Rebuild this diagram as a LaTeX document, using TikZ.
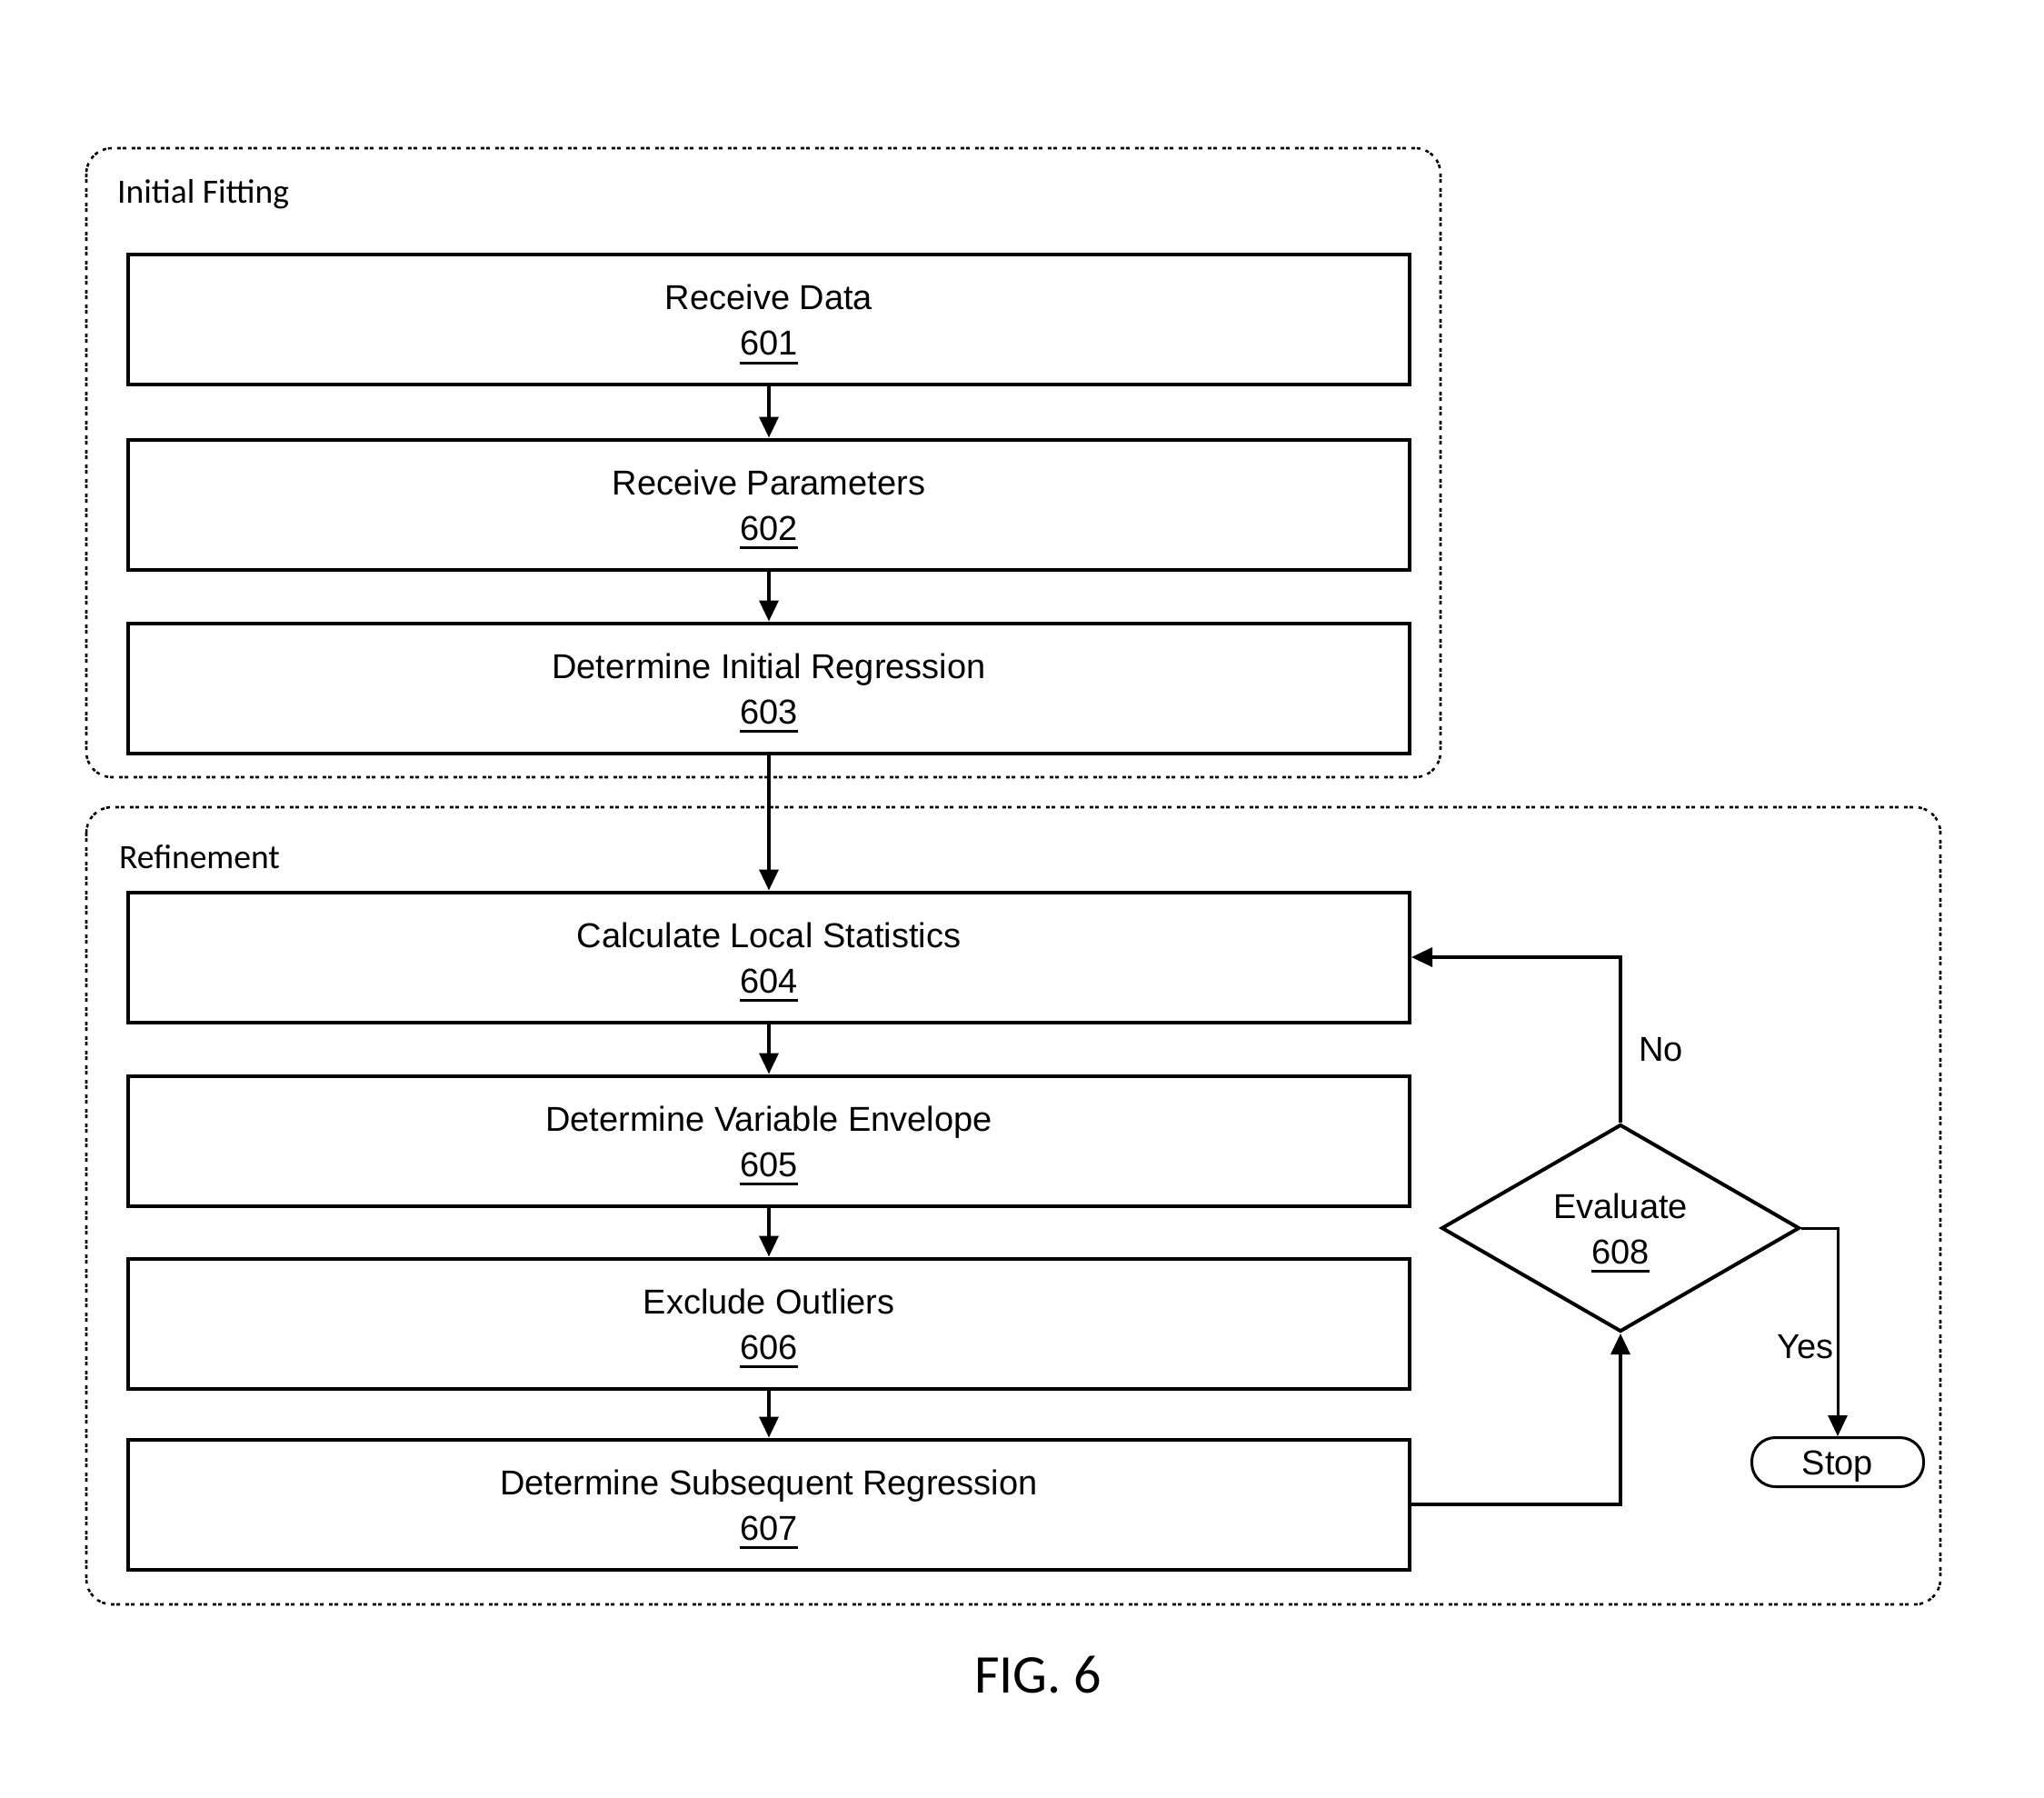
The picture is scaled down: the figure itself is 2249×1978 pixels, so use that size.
\documentclass[tikz,border=0pt]{standalone}
\usepackage{fontspec}
\setmainfont{Liberation Sans}
\newfontfamily\calib{Carlito}
\usetikzlibrary{arrows.meta,shapes.geometric}
\newcommand{\refnum}[1]{\setbox0\hbox{#1}\rlap{\rule[-10pt]{\wd0}{3pt}}#1}
\newcommand{\twol}[2]{\rule{0pt}{38pt}#1\\\refnum{#2}}
\begin{document}
\begin{tikzpicture}[x=1pt,y=-1pt,
  procbox/.style={draw, line width=4pt, minimum width=1410pt, minimum height=143pt,
    inner sep=0pt, align=center, font=\fontsize{38}{50}\selectfont},
  decision/.style={draw, diamond, aspect=1.716, line width=4pt, minimum width=394pt,
    minimum height=228pt, inner sep=0pt, align=center, font=\fontsize{38}{50}\selectfont},
  stopbox/.style={draw, rectangle, rounded corners=26pt, line width=3pt, minimum width=189pt,
    minimum height=54pt, inner sep=0pt, text height=27pt, text depth=0pt,
    font=\fontsize{38}{46}\selectfont},
  groupbox/.style={draw, line width=2.6pt, rounded corners=28pt, dash pattern=on 4pt off 2pt on 4pt off 6pt},
  grouplabel/.style={inner sep=0pt, font=\calib\fontsize{37.5}{45}\selectfont},
  flowlabel/.style={inner sep=0pt, font=\fontsize{38}{46}\selectfont},
  arr/.style={line width=3.5pt, -{Triangle[length=23pt,width=21pt]}},
]
\useasboundingbox[fill=white] (0,0) rectangle (2249,1978);

% group frames
\draw[groupbox] (95,163) rectangle (1585,855);
\draw[groupbox] (95,888) rectangle (2135,1765);
\node[grouplabel, anchor=base west] (lif) at (129,223) {Initial Fitting};
\node[grouplabel, anchor=base west] (lref) at (131,955) {Refinement};

% process boxes
\node[procbox] (b601) at (846,351.5) {\twol{Receive Data}{601}};
\node[procbox] (b602) at (846,555) {\twol{Receive Parameters}{602}};
\node[procbox] (b603) at (846,757) {\twol{Determine Initial Regression}{603}};
\node[procbox] (b604) at (846,1053) {\twol{Calculate Local Statistics}{604}};
\node[procbox] (b605) at (846,1255) {\twol{Determine Variable Envelope}{605}};
\node[procbox] (b606) at (846,1456) {\twol{Exclude Outliers}{606}};
\node[procbox] (b607) at (846,1655) {\twol{Determine Subsequent Regression}{607}};

\node[decision] (d608) at (1783,1351) {\twol{Evaluate}{608}};
\node[stopbox] (stop) at (2022,1608.5) {Stop};

% connectors
\draw[arr] (b601.south) -- (b602.north);
\draw[arr] (b602.south) -- (b603.north);
\draw[arr] (b603.south) -- (b604.north);
\draw[arr] (b604.south) -- (b605.north);
\draw[arr] (b605.south) -- (b606.north);
\draw[arr] (b606.south) -- (b607.north);
\draw[arr] (b607.east) -| (d608.south);
\draw[arr] (d608.north) |- (b604.east);
\draw[arr, line width=3pt] (d608.east) -| (stop.north);

\node[flowlabel, anchor=base west] (lno) at (1803,1167) {No};
\node[flowlabel, anchor=base east] (lyes) at (2018,1494) {Yes};

\node[inner sep=0pt, anchor=base, font=\calib\fontsize{60}{70}\selectfont] (fig) at (1142,1862) {FIG. 6};
\end{tikzpicture}
\end{document}
